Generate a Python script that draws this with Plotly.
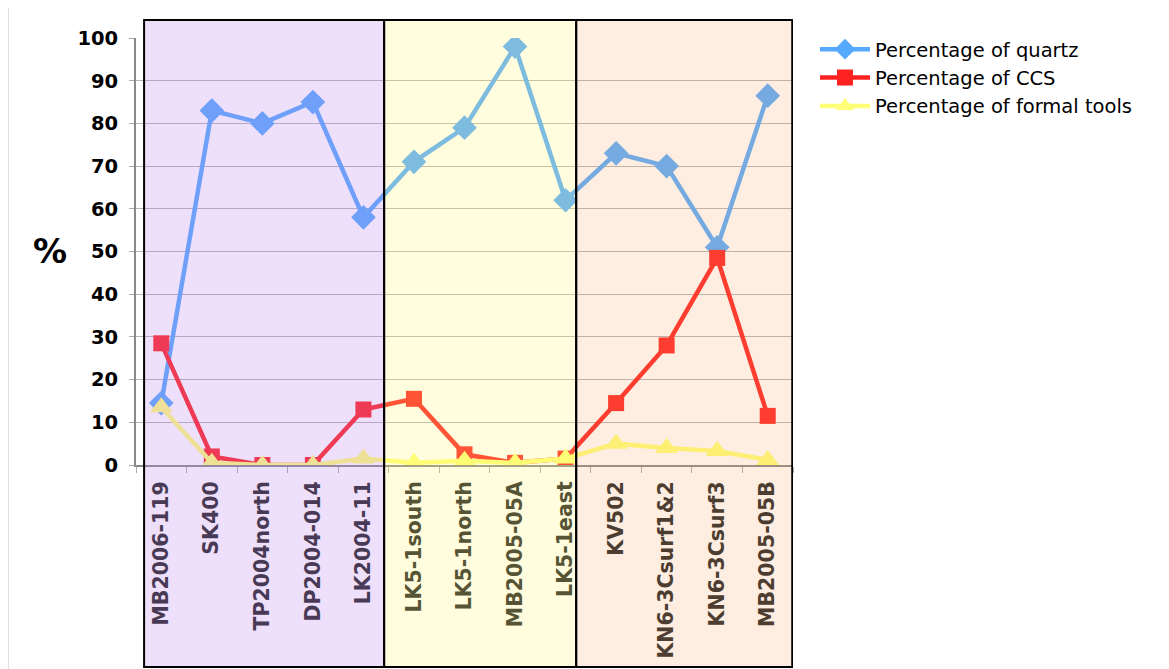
import plotly.graph_objects as go

categories = ["MB2006-119", "SK400", "TP2004north", "DP2004-014", "LK2004-11",
              "LK5-1south", "LK5-1north", "MB2005-05A", "LK5-1east",
              "KV502", "KN6-3Csurf1&2", "KN6-3Csurf3", "MB2005-05B"]
quartz = [14.5, 83, 80, 85, 58, 71, 79, 98, 62, 73, 70, 51, 86.5]
ccs = [28.5, 2, 0, 0, 13, 15.5, 2.5, 0.5, 1.5, 14.5, 28, 48.5, 11.5]
formal = [13.5, 0.5, 0, 0, 1.5, 0.5, 1, 0.5, 1.5, 5, 4, 3.3, 1.2]
y_ticks = [0, 10, 20, 30, 40, 50, 60, 70, 80, 90, 100]

OFF = 8  # page body margin
W, H = 1169 - OFF, 669 - OFF
L, R, T, B = 136 - OFF, 376, 38 - OFF, 204
pw, ph = W - L - R, H - T - B

def px_to_paper_x(px):
    return (px - OFF - L) / pw

def px_to_paper_y(py):
    return (T + ph - (py - OFF)) / ph

fig = go.Figure()
series = [
    ("Percentage of quartz", quartz, "#55aaff", "diamond", 19),
    ("Percentage of CCS", ccs, "#ff2222", "square", 16),
    ("Percentage of formal tools", formal, "#ffff77", "triangle-up", 20),
]
for name, vals, col, sym, sz in series:
    fig.add_trace(go.Scatter(
        x=categories, y=vals, name=name, mode="lines+markers",
        line=dict(color=col, width=4.5),
        marker=dict(symbol=sym, size=sz, color=col),
    ))

fig.update_layout(
    width=W, height=H,
    margin=dict(l=L, r=R, t=T, b=B, autoexpand=False),
    paper_bgcolor="white", plot_bgcolor="white",
    font=dict(family="DejaVu Sans", color="black"),
    showlegend=True,
    legend=dict(
        x=px_to_paper_x(815), y=px_to_paper_y(30), xanchor="left", yanchor="top",
        font=dict(family="DejaVu Sans", size=19.5, color="black"),
        itemwidth=50, tracegroupgap=0, bgcolor="rgba(0,0,0,0)",
    ),
    xaxis=dict(
        type="category", range=[-0.5, len(categories) - 0.5],
        tickangle=-90, tickson="boundaries", ticks="outside", ticklen=6,
        tickcolor="#aaaaaa", showgrid=False, showline=True, linecolor="#888888", linewidth=2,
        ticklabelstandoff=6,
        tickfont=dict(family="DejaVu Sans", size=20.5, color="#222222", weight="bold"),
    ),
    yaxis=dict(
        range=[0, 100], tickvals=y_ticks, showgrid=True, gridcolor="#b4b4b4", gridwidth=1,
        showline=True, linecolor="#888888", linewidth=2, ticks="outside", ticklen=5,
        tickcolor="#aaaaaa", zeroline=False, ticklabelstandoff=7,
        tickfont=dict(family="DejaVu Sans", size=19.5, color="black", weight="bold"),
    ),
)

# region overlays
regions = [
    (-0.34, 4.41, "rgba(187,131,235,0.25)"),
    (4.41, 8.21, "rgba(255,247,117,0.24)"),
    (8.21, 12.485, "rgba(245,170,105,0.2)"),
]
for x0, x1, fc in regions:
    fig.add_shape(type="rect", xref="x", yref="paper", x0=x0, x1=x1,
                  y0=px_to_paper_y(667), y1=px_to_paper_y(20),
                  fillcolor=fc, line=dict(color="black", width=2), layer="above")

# outer frame
fig.add_shape(type="rect", xref="paper", yref="paper",
              x0=px_to_paper_x(8), x1=px_to_paper_x(1185),
              y0=px_to_paper_y(690), y1=px_to_paper_y(5),
              line=dict(color="#d6d6d6", width=1.5), fillcolor="rgba(0,0,0,0)", layer="below")

fig.add_annotation(text="%", xref="paper", yref="paper",
                   x=px_to_paper_x(50), y=px_to_paper_y(251), xanchor="center", yanchor="middle",
                   showarrow=False,
                   font=dict(family="DejaVu Sans", size=34, color="black", weight="bold"))

fig.write_html("out.html")
